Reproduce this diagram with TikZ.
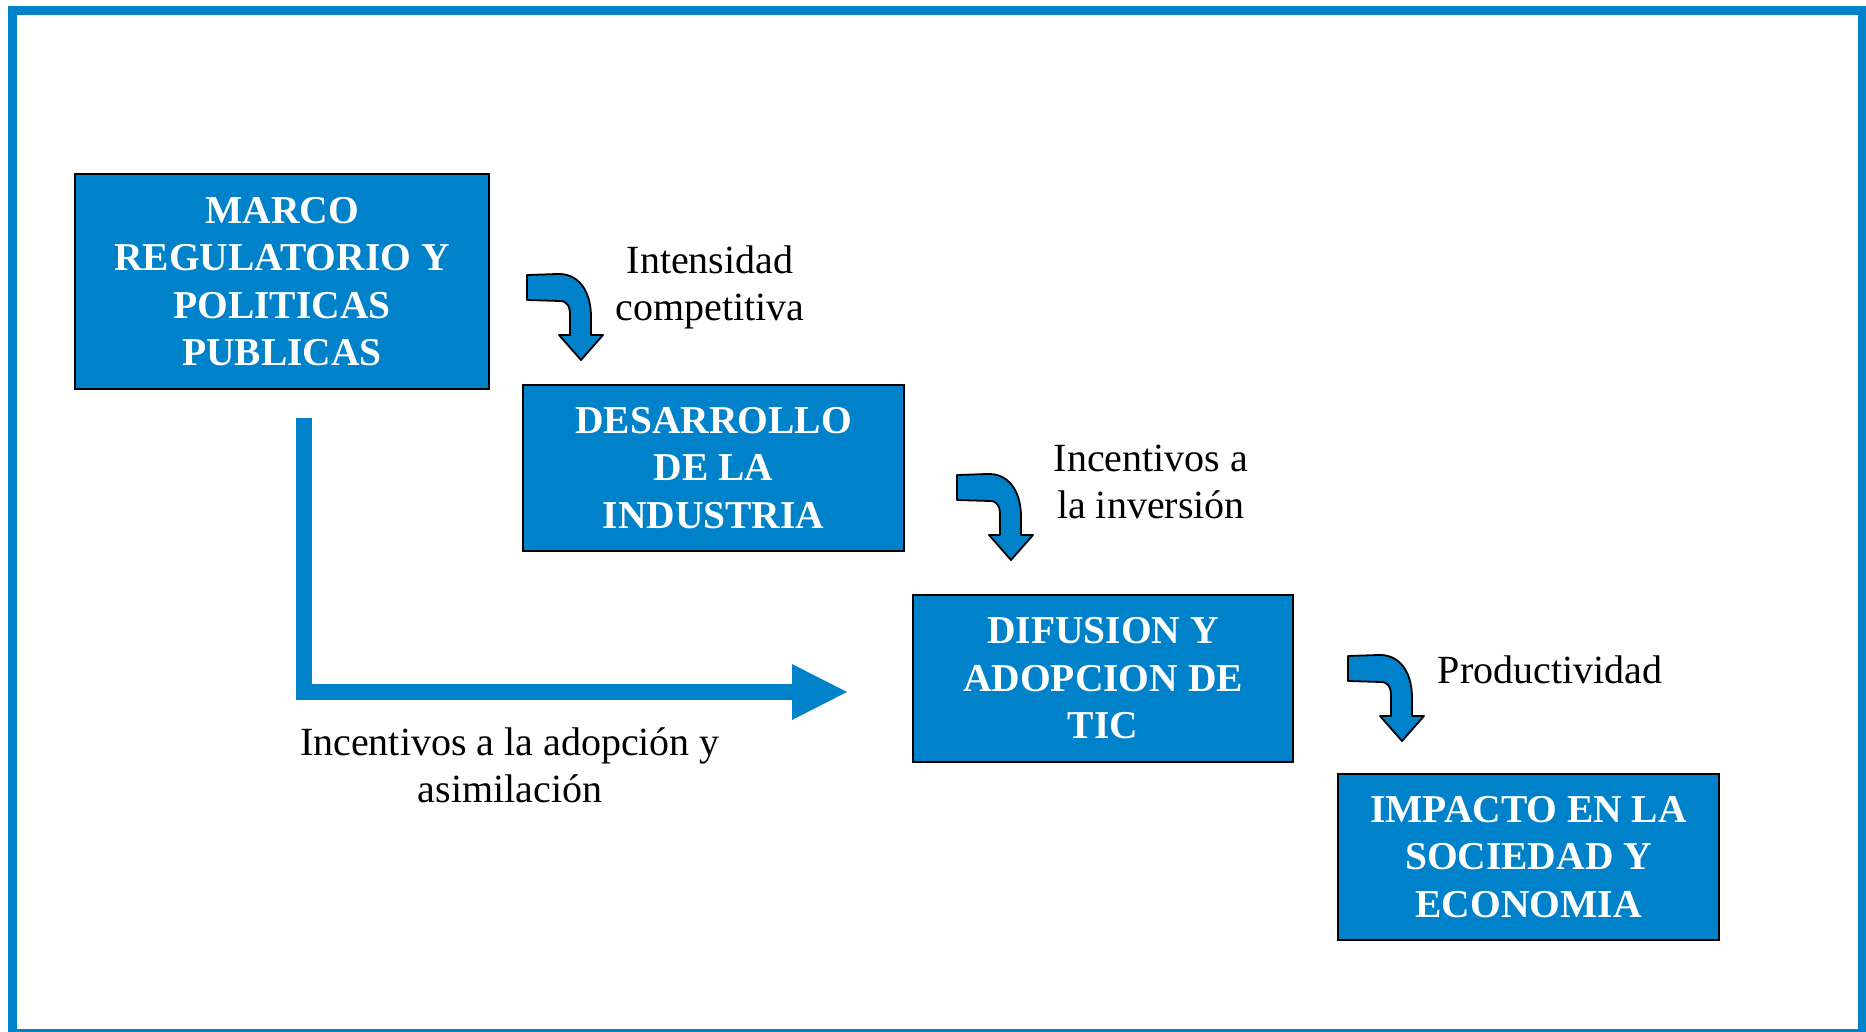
\documentclass[tikz,border=0pt]{standalone}
\usepackage{fontspec}
\setmainfont{Liberation Serif}
\usepackage{tikz}
\usetikzlibrary{arrows.meta}

\definecolor{boxblue}{RGB}{0,130,202}

\tikzset{
  block/.style={draw=black, line width=2pt, fill=boxblue, text=white, align=center,
    inner sep=0pt, font=\bfseries\fontsize{39.5}{47.5}\selectfont},
  tag/.style={align=center, inner sep=0pt, font=\fontsize{40}{47}\selectfont},
  bendarrow/.pic={
    \filldraw[fill=boxblue, draw=black, line width=1.8pt, line join=round]
      (0,0) -- (30,-1) .. controls (50,-2) and (64,14) .. (64,42) -- (64,60) -- (76,60)
      -- (54,85) -- (32,60) -- (43,60) -- (43,40) .. controls (43,31) and (40,26) .. (33,26)
      -- (0,25) -- cycle;
  }
}

\begin{document}
\begin{tikzpicture}[x=1pt,y=-1pt,>=Stealth]
\useasboundingbox (0,0) rectangle (1866,1031);

% Outer frame
\draw[boxblue, line width=9pt] (12.5,10) rectangle (1862.5,1033);

% Draw blocks
\node[block, minimum width=414pt, minimum height=215pt] (marco) at (282,281.5) {MARCO\\REGULATORIO Y\\POLITICAS\\PUBLICAS};
\node[block, minimum width=381pt, minimum height=166pt] (desarrollo) at (713.5,468) {DESARROLLO\\DE LA\\INDUSTRIA};
\node[block, minimum width=380pt, minimum height=167pt] (difusion) at (1103,678.5) {DIFUSION Y\\ADOPCION DE\\TIC};
\node[block, minimum width=381pt, minimum height=166pt] (impacto) at (1528.5,857) {IMPACTO EN LA\\SOCIEDAD Y\\ECONOMIA};

% Draw bent arrows between blocks
\pic (arrA) at (527,275) {bendarrow};
\pic (arrB) at (957,475) {bendarrow};
\pic (arrC) at (1348,656) {bendarrow};

% Labels of the bent arrows
\node[tag] (intensidad) at (710,287) {Intensidad\\competitiva};
\node[tag] (inversion) at (1151,482) {Incentivos a\\la inversión};
\node[tag, anchor=base] (productividad) at (1550,683) {Productividad};

% Long arrow from the regulatory frame
\coordinate (lstart) at (304,418);
\coordinate (lend) at (847,692);
\draw[boxblue, line width=16pt, line join=miter, -{Triangle[length=55pt,width=56pt,line width=0pt]}] (lstart) |- (lend);
\node[tag] (adopcion) at (510,765) {Incentivos a la adopción y\\asimilación};

\end{tikzpicture}
\end{document}
